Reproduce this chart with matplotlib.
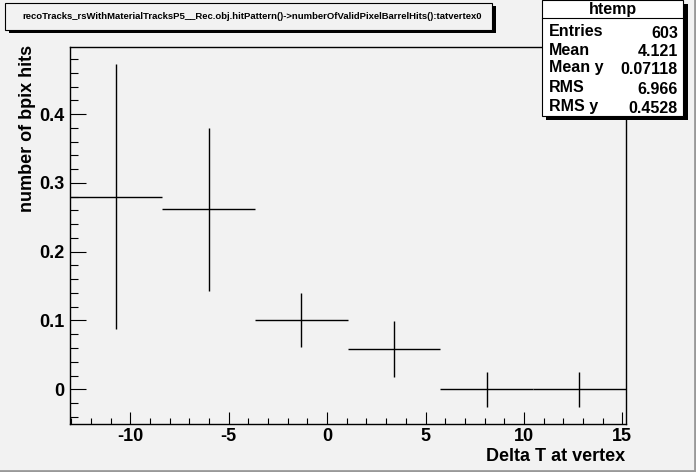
import matplotlib.pyplot as plt
from matplotlib.patches import Rectangle
from matplotlib.ticker import MultipleLocator

plt.rcParams["font.family"] = ["Liberation Sans", "DejaVu Sans"]
plt.rcParams["font.weight"] = "bold"
plt.rcParams["axes.unicode_minus"] = False

# profile bins (tatvertex) and mean bpix hits
bin_centers = [-10.73, -6.02, -1.31, 3.40, 8.11, 12.82]
bin_halfwidth = 2.354
mean_hits = [0.280, 0.2617, 0.1007, 0.0585, 0.0, 0.0]
err_hits = [0.193, 0.1185, 0.039, 0.041, 0.0254, 0.0254]

stats_names = ["Entries", "Mean", "Mean y", "RMS", "RMS y"]
stats_values = ["603", "4.121", "0.07118", "6.966", "0.4528"]

title = "recoTracks_rsWithMaterialTracksP5__Rec.obj.hitPattern()->numberOfValidPixelBarrelHits():tatvertex0"

bg = "#f2f2f2"
fig = plt.figure(figsize=(6.96, 4.72), dpi=100, facecolor=bg)
ax = fig.add_axes([0.1, 0.1023, 0.799, 0.7975], facecolor=bg)

ax.errorbar(bin_centers, mean_hits, xerr=bin_halfwidth, yerr=err_hits,
            fmt="none", ecolor="black", elinewidth=1.0, capsize=0)

ax.set_xlim(-13.08, 15.17)
ax.set_ylim(-0.05, 0.497)

ax.xaxis.set_major_locator(MultipleLocator(5))
ax.xaxis.set_minor_locator(MultipleLocator(1))
ax.yaxis.set_major_locator(MultipleLocator(0.1))
ax.yaxis.set_minor_locator(MultipleLocator(0.02))
ax.tick_params(axis="x", which="major", direction="in", length=8.5, width=0.8, labelsize=13, pad=3)
ax.tick_params(axis="x", which="minor", direction="in", length=4.5, width=0.8)
ax.tick_params(axis="y", which="major", direction="in", length=11.5, width=0.8, labelsize=13, pad=3.5)
ax.tick_params(axis="y", which="minor", direction="in", length=6, width=0.8)
ax.yaxis.set_major_formatter(plt.FuncFormatter(lambda v, p: "0" if abs(v) < 1e-9 else f"{v:.1f}"))
for lab in ax.get_xticklabels() + ax.get_yticklabels():
    lab.set_fontweight("bold")
for s in ax.spines.values():
    s.set_linewidth(1.0)

fig.text(0.898, 0.032, "Delta T at vertex", ha="right", va="center", fontsize=13, fontweight="bold")
fig.text(0.040, 0.905, "number of bpix hits", ha="center", va="top", rotation=90,
         fontsize=13, fontweight="bold")

# title box with shadow
fig.patches.append(Rectangle((0.013, 0.930), 0.700, 0.058, transform=fig.transFigure,
                             facecolor="black", edgecolor="none", zorder=1))
fig.patches.append(Rectangle((0.007, 0.937), 0.700, 0.056, transform=fig.transFigure,
                             facecolor=bg, edgecolor="black", linewidth=0.8, zorder=2))
fig.text(0.362, 0.965, title, ha="center", va="center", fontsize=6.8, fontweight="bold", zorder=3)

# stats box with shadow
x1, x2, y1, y2 = 0.779, 0.982, 0.754, 0.999
fig.patches.append(Rectangle((x1 + 0.006, y1 - 0.008), x2 - x1, y2 - y1, transform=fig.transFigure,
                             facecolor="black", edgecolor="none", zorder=4))
fig.patches.append(Rectangle((x1, y1), x2 - x1, y2 - y1, transform=fig.transFigure,
                             facecolor="white", edgecolor="black", linewidth=0.8, zorder=5))
fig.add_artist(plt.Line2D([x1, x2], [0.962, 0.962], transform=fig.transFigure,
                          color="black", linewidth=0.8, zorder=6))
fig.text((x1 + x2) / 2, 0.980, "htemp", ha="center", va="center", fontsize=11.5,
         fontweight="bold", zorder=7)
row_y = [0.934, 0.894, 0.857, 0.814, 0.775]
for name, val, yy in zip(stats_names, stats_values, row_y):
    fig.text(x1 + 0.010, yy, name, ha="left", va="center", fontsize=11.5, fontweight="bold", zorder=7)
    fig.text(x2 - 0.008, yy - 0.004, val, ha="right", va="center", fontsize=11.5, fontweight="bold", zorder=7)

# canvas bevel
fig.add_artist(plt.Line2D([0, 1], [0.002, 0.002], transform=fig.transFigure, color="#999999", linewidth=2))
fig.add_artist(plt.Line2D([0.998, 0.998], [0, 1], transform=fig.transFigure, color="#999999", linewidth=2))

fig.savefig("out.png", dpi=100, facecolor=bg)
